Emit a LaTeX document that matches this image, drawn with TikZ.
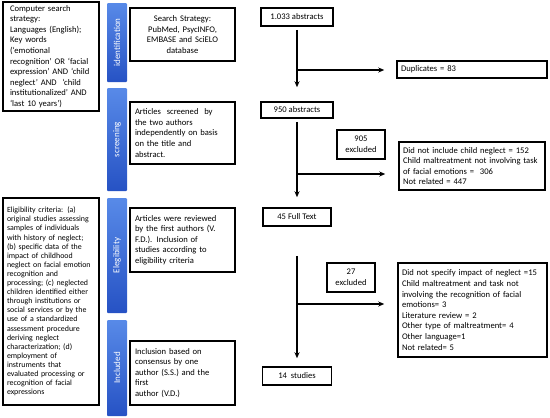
\documentclass[tikz,border=0pt]{standalone}
\usepackage{fontspec}
\setmainfont{Carlito}
\usepackage{xcolor}
\usepackage{tikz}
\usetikzlibrary{arrows.meta,positioning,calc}
\definecolor{barlight}{RGB}{88,138,232}
\definecolor{bardark}{RGB}{38,82,196}

\begin{document}
\begin{tikzpicture}[x=1pt,y=-1pt,>={Stealth[length=6pt,width=5pt]},
  box/.style={draw,line width=1.5pt,inner ysep=3pt,inner xsep=5pt,align=left,
    font=\fontsize{8.6}{10.6}\selectfont},
  cbox/.style={box,align=center,inner xsep=3pt},
  smallbox/.style={box,font=\fontsize{7.9}{9.1}\selectfont},
  bar/.style={rotate=90,inner sep=0pt,rounded corners=1pt,
    top color=barlight,bottom color=bardark,text=white,
    minimum height=20pt,font=\fontsize{9}{9}\selectfont},
  flow/.style={line width=1.3pt}]
  \useasboundingbox (0,0) rectangle (550,418);
  % left column
  \node[box,inner xsep=7pt,text width=82pt,minimum height=107pt] (srch) at (51,56.5)
    {Computer search\\ strategy:\\ Languages (English);\\ Key words\\ (‘emotional\\ recognition’ OR ‘facial\\ expression’ AND ‘child\\ neglect’ AND \ ‘child\\ institutionalized’ AND\\ ‘last 10 years’)};
  \node[smallbox,inner xsep=4pt,text width=88pt,minimum height=207pt] (crit) at (51,301.5)
    {Eligibility criteria: (a)\\ original studies assessing\\ samples of individuals\\ with history of neglect;\\ (b) specific data of the\\ impact of childhood\\ neglect on facial emotion\\ recognition and\\ processing; (c) neglected\\ children identified either\\ through institutions or\\ social services or by the\\ use of a standardized\\ assessment procedure\\ deriving neglect\\ characterization; (d)\\ employment of\\ instruments that\\ evaluated processing or\\ recognition of facial\\ expressions};
  % stage bars
  \node[bar,minimum width=79pt] (idb) at (117,42.5) {identification};
  \node[bar,minimum width=103pt] (scb) at (117,139.5) {screening};
  \node[bar,minimum width=115pt] (elb) at (117,255.5) {Elegibility};
  \node[bar,minimum width=96pt] (inb) at (117,368) {Included};
  % middle column
  \node[cbox,text width=99pt,minimum height=53pt] (strat) at (182.5,34.5)
    {Search Strategy:\\ PubMed, PsycINFO,\\ EMBASE and SciELO\\ database};
  \node[box,text width=95pt,minimum height=62pt] (scrn) at (182.5,133)
    {Articles \ screened \ by\\ the two authors\\ independently on basis\\ on the title and\\ abstract.};
  \node[box,text width=95pt,minimum height=64pt] (revw) at (182.5,240)
    {Articles were reviewed\\ by the first authors (V.\\ F.D.). Inclusion of\\ studies according to\\ eligibility criteria};
  \node[box,text width=95pt,minimum height=64pt] (incl) at (182.5,373)
    {Inclusion based on\\ consensus by one\\ author (S.S.) and the\\ first\\ author (V.D.)};
  % counts
  \node[cbox,minimum width=72pt,minimum height=18pt] (abs1) at (297,17) {1.033 abstracts};
  \node[cbox,minimum width=72pt,minimum height=16pt] (abs2) at (297,110) {950 abstracts};
  \node[cbox,minimum width=68pt,minimum height=18pt] (full) at (297,217) {45 Full Text};
  \node[cbox,minimum width=69pt,minimum height=18pt] (stud) at (297,376) {14 \ studies};
  \node[cbox,minimum width=48pt,minimum height=29pt] (n905) at (361,144.5) {905\\ excluded};
  \node[cbox,minimum width=48pt,minimum height=29pt] (n27) at (351,277.5) {27\\ excluded};
  % exclusions
  \node[box,inner xsep=4pt,text width=142pt,minimum height=17pt] (dup) at (472,69.5) {Duplicates = 83};
  \node[box,inner xsep=4pt,text width=138pt,minimum height=48pt] (exc1) at (472,166)
    {Did not include child neglect = 152\\ Child maltreatment not involving task\\ of facial emotions = \ 306\\ Not related = 447};
  \node[box,inner xsep=4pt,text width=141pt,minimum height=94pt] (exc2) at (472.5,310)
    {Did not specify impact of neglect =15\\ Child maltreatment and task not\\ involving the recognition of facial\\ emotions= 3\\ Literature review = 2\\ Other type of maltreatment= 4\\ Other language=1\\ Not related= 5};
  % connectors
  \coordinate (j1) at (297,70);
  \coordinate (j2) at (297,174);
  \coordinate (j3) at (297,304);
  \draw[flow,->,shorten <=3pt,shorten >=14pt] (abs1) -- (abs2);
  \draw[flow,->,shorten <=3pt,shorten >=10pt] (abs2) -- (full);
  \draw[flow,->,shorten <=29pt,shorten >=8pt] (full) -- (stud);
  \draw[flow,->,shorten >=12pt] (j1) -- (j1 -| dup.west);
  \draw[flow,->,shorten >=13pt] (j2) -- (j2 -| exc1.west);
  \draw[flow,->,shorten >=13pt] (j3) -- (j3 -| exc2.west);
\end{tikzpicture}
\end{document}
